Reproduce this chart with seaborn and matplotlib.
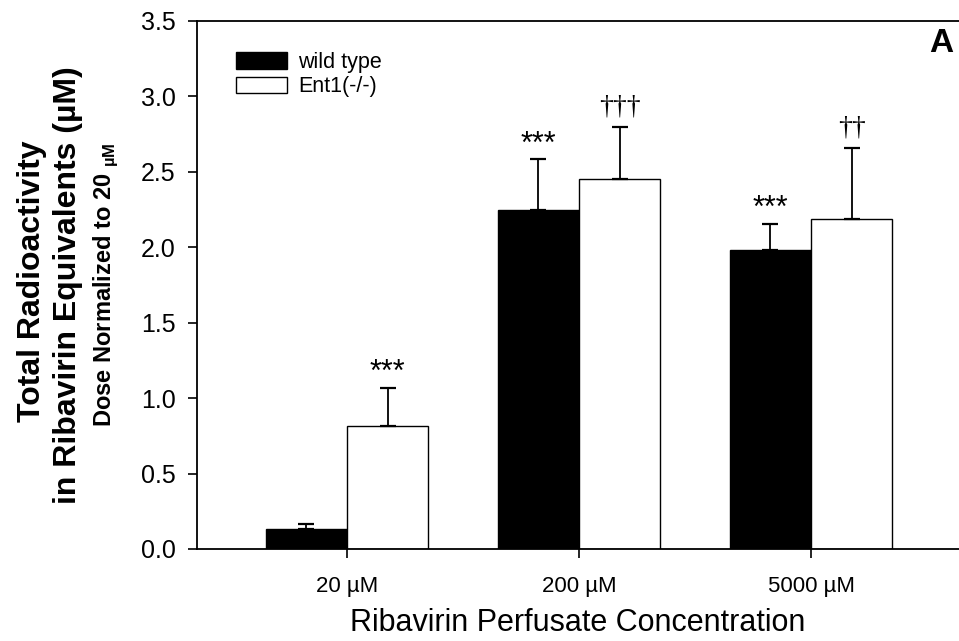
import matplotlib
matplotlib.use("Agg")
import matplotlib.pyplot as plt
import seaborn as sns
import pandas as pd
import numpy as np
from matplotlib.patches import Patch

categories = ["20 \u00b5M", "200 \u00b5M", "5000 \u00b5M"]
groups = ["wild type", "Ent1(-/-)"]
wt_mean = [0.13, 2.25, 1.98]
wt_err = [0.035, 0.335, 0.175]
ko_mean = [0.815, 2.455, 2.185]
ko_err = [0.255, 0.34, 0.47]
wt_marks = ["", "***", "***"]
ko_marks = ["***", "\u2020\u2020\u2020", "\u2020\u2020"]

df = pd.DataFrame({
    "conc": categories * 2,
    "genotype": [groups[0]] * 3 + [groups[1]] * 3,
    "value": wt_mean + ko_mean,
})

sns.set_theme(style="white")
plt.rcParams["font.family"] = ["Liberation Sans", "DejaVu Sans"]
for k in ["text.color", "axes.labelcolor", "xtick.color", "ytick.color", "axes.edgecolor"]:
    plt.rcParams[k] = "black"

fig = plt.figure(figsize=(9.59, 6.41), dpi=100)
ax = fig.add_axes([197 / 959, 1 - 549 / 641, 1 - 197 / 959, (549 - 21) / 641])

sns.barplot(data=df, x="conc", y="value", hue="genotype", order=categories,
            hue_order=groups, palette=["black", "white"], errorbar=None,
            edgecolor="black", linewidth=1.0, width=0.7, ax=ax, legend=False)

# error bars and significance marks from bar geometry
bars = [p for p in ax.patches if p.get_width() > 0]
bars = sorted(bars, key=lambda p: p.get_x())
means = []
errs = []
marks = []
for i in range(3):
    means += [wt_mean[i], ko_mean[i]]
    errs += [wt_err[i], ko_err[i]]
    marks += [wt_marks[i], ko_marks[i]]
for p, m, e, mk in zip(bars, means, errs, marks):
    xc = p.get_x() + p.get_width() / 2
    ax.errorbar(xc, m, yerr=[[0], [e]], fmt="none", ecolor="black",
                elinewidth=1.3, capsize=6.1, capthick=1.6, zorder=3)
    if mk:
        if "*" in mk:
            ax.annotate(mk, (xc, m + e), xytext=(0, 10.5), textcoords="offset points",
                        ha="center", va="center", fontsize=22, color="black")
        else:
            ax.annotate(mk, (xc, m + e), xytext=(0, 6), textcoords="offset points",
                        ha="center", va="bottom", fontsize=20, color="black",
                        family=["Liberation Serif", "DejaVu Serif"])

ax.set_ylim(0, 3.5)
ax.set_xlim(-0.647, 2.638)
ax.set_yticks(np.arange(0, 3.51, 0.5))
ax.set_yticklabels([f"{v:.1f}" for v in np.arange(0, 3.51, 0.5)], fontsize=18)
ax.set_xticks([0, 1, 2])
ax.set_xticklabels(categories, fontsize=16)
ax.tick_params(axis="both", direction="out", length=6.5, width=1.2, color="black",
               bottom=True, left=True, pad=9)
ax.tick_params(axis="x", pad=13)
for s in ["left", "top", "bottom"]:
    ax.spines[s].set_visible(True)
    ax.spines[s].set_color("black")
    ax.spines[s].set_linewidth(1.3)
ax.spines["right"].set_visible(False)

ax.set_xlabel("Ribavirin Perfusate Concentration", fontsize=22, labelpad=8)
ax.set_ylabel("")

fig.text(32 / 959, 1 - 281 / 641, "Total Radioactivity", rotation=90,
         ha="center", va="center", fontsize=23, fontweight="bold")
fig.text(68 / 959, 1 - 285 / 641, "in Ribavirin Equivalents (\u00b5M)", rotation=90,
         ha="center", va="center", fontsize=23, fontweight="bold")
fig.text(106 / 959, 1 - 285 / 641, "Dose Normalized to 20 $_{\\mathregular{\u00b5M}}$",
         rotation=90, ha="center", va="center", fontsize=17, fontweight="bold")

fig.text(941 / 959, 1 - 44 / 641, "A", ha="center", va="center",
         fontsize=24, fontweight="bold")

handles = [Patch(facecolor="black", edgecolor="black", linewidth=1.0),
           Patch(facecolor="white", edgecolor="black", linewidth=1.0)]
leg = ax.legend(handles, groups, loc="upper left",
                bbox_to_anchor=((236 - 197) / 762, 1 - 31 / 528),
                frameon=False, fontsize=15.5, handlelength=2.37, handleheight=0.79,
                handletextpad=0.5, labelspacing=0.15, borderpad=0, borderaxespad=0)

fig.savefig("out.png", dpi=100, facecolor="white")
